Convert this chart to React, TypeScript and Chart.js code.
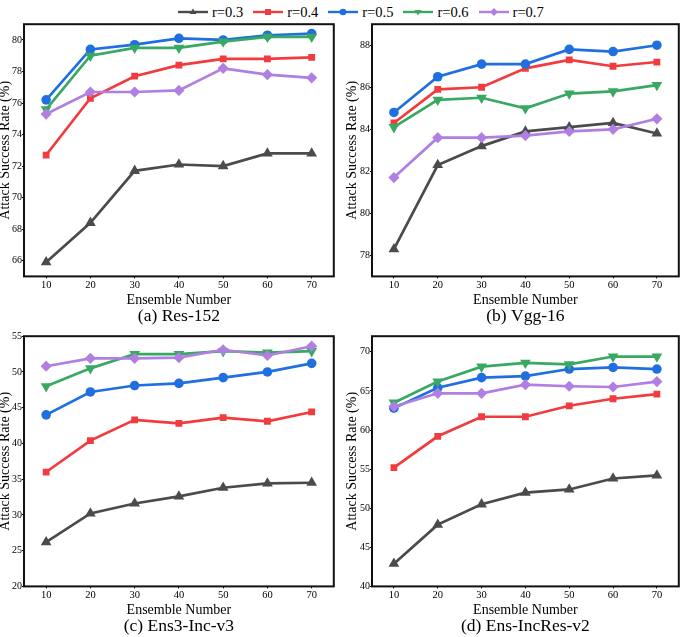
import React, { useEffect, useRef } from "react";
import { Chart, registerables } from "chart.js";

Chart.register(...registerables);

// ---------- data ----------
const ensembleNumbers = [10, 20, 30, 40, 50, 60, 70];
const xTickValues = [10, 20, 30, 40, 50, 60, 70];
const seriesLabels = ["r=0.3", "r=0.4", "r=0.5", "r=0.6", "r=0.7"];

// (a) Res-152
const resR03 = [65.9, 68.4, 71.7, 72.1, 72.0, 72.8, 72.8];
const resR04 = [72.7, 76.3, 77.7, 78.4, 78.8, 78.8, 78.9];
const resR05 = [76.2, 79.4, 79.7, 80.1, 80.0, 80.3, 80.4];
const resR06 = [75.6, 79.0, 79.5, 79.5, 79.9, 80.2, 80.2];
const resR07 = [75.3, 76.7, 76.7, 76.8, 78.2, 77.8, 77.6];
const resYTicks = [66, 68, 70, 72, 74, 76, 78, 80];

// (b) Vgg-16
const vggR03 = [78.3, 82.3, 83.2, 83.9, 84.1, 84.3, 83.8];
const vggR04 = [84.3, 85.9, 86.0, 86.9, 87.3, 87.0, 87.2];
const vggR05 = [84.8, 86.5, 87.1, 87.1, 87.8, 87.7, 88.0];
const vggR06 = [84.1, 85.4, 85.5, 85.0, 85.7, 85.8, 86.1];
const vggR07 = [81.7, 83.6, 83.6, 83.7, 83.9, 84.0, 84.5];
const vggYTicks = [78, 80, 82, 84, 86, 88];

// (c) Ens3-Inc-v3
const ens3R03 = [26.2, 30.2, 31.6, 32.6, 33.8, 34.4, 34.5];
const ens3R04 = [36.0, 40.4, 43.3, 42.8, 43.6, 43.1, 44.4];
const ens3R05 = [44.0, 47.2, 48.1, 48.4, 49.2, 50.0, 51.2];
const ens3R06 = [48.0, 50.5, 52.5, 52.5, 52.9, 52.7, 52.9];
const ens3R07 = [50.8, 51.9, 51.9, 52.0, 53.1, 52.3, 53.6];
const ens3YTicks = [20, 25, 30, 35, 40, 45, 50, 55];

// (d) Ens-IncRes-v2
const ensIncR03 = [42.9, 47.9, 50.5, 52.0, 52.4, 53.8, 54.2];
const ensIncR04 = [55.2, 59.2, 61.7, 61.7, 63.1, 64.0, 64.6];
const ensIncR05 = [62.8, 65.4, 66.7, 66.9, 67.8, 68.0, 67.8];
const ensIncR06 = [63.5, 66.2, 68.1, 68.6, 68.4, 69.4, 69.4];
const ensIncR07 = [63.0, 64.7, 64.7, 65.8, 65.6, 65.5, 66.2];
const ensIncYTicks = [40, 45, 50, 55, 60, 65, 70];

// ---------- styles ----------
const colors = ["#4b4b4b", "#f23b3f", "#1f6fe0", "#39a862", "#b07fe2"];
const pointStyles = ["triangle", "rect", "circle", "triangle", "rectRot"];
const pointRotations = [0, 0, 0, 180, 0];
const pointRadii = [6.2, 4.8, 4.8, 6.2, 5.6];
const FONT = "'Liberation Serif', 'Times New Roman', serif";

const framePlugin = {
  id: "frame",
  afterDraw(chart: any) {
    const { ctx, chartArea } = chart;
    ctx.save();
    ctx.strokeStyle = "#111";
    ctx.lineWidth = 2;
    ctx.strokeRect(chartArea.left, chartArea.top, chartArea.right - chartArea.left, chartArea.bottom - chartArea.top);
    ctx.restore();
  },
};

type PanelProps = {
  left: number;
  top: number;
  width: number;
  height: number;
  series: number[][];
  yMin: number;
  yMax: number;
  yTicks: number[];
  subtitle: string;
  yAxisWidth: number;
  yTitlePad: number;
  padTop: number;
  padRight: number;
};

function Panel(p: PanelProps) {
  const ref = useRef<HTMLCanvasElement>(null);
  useEffect(() => {
    const canvas = ref.current!;
    const chart = new Chart(canvas, {
      type: "line",
      data: {
        datasets: p.series.map((vals, i) => ({
          label: seriesLabels[i],
          data: ensembleNumbers.map((x, j) => ({ x, y: vals[j] })),
          borderColor: colors[i],
          backgroundColor: colors[i],
          borderWidth: 2.7,
          pointStyle: pointStyles[i] as any,
          rotation: pointRotations[i],
          pointRadius: pointRadii[i],
          pointBorderWidth: 0,
          tension: 0,
          order: 4 - i,
        })),
      },
      options: {
        responsive: false,
        animation: false,
        devicePixelRatio: 1,
        layout: { padding: { top: p.padTop, right: p.padRight, left: 0, bottom: 0 } },
        plugins: {
          legend: { display: false },
          tooltip: { enabled: false },
          title: {
            display: true,
            text: p.subtitle,
            position: "bottom",
            fullSize: false,
            color: "#000",
            font: { family: FONT, size: 17.5, weight: "normal" },
            padding: { top: -4, bottom: 0 },
          },
        },
        scales: {
          x: {
            type: "linear",
            min: 5,
            max: 75,
            afterBuildTicks: (s: any) => {
              s.ticks = xTickValues.map((v) => ({ value: v }));
            },
            afterFit: (s: any) => {
              s.height = 33.6;
            },
            ticks: { color: "#000", font: { family: FONT, size: 10.5 }, padding: 1, maxRotation: 0 },
            grid: { drawOnChartArea: false, drawTicks: true, tickLength: 2, color: "#000" },
            border: { display: false },
            title: {
              display: true,
              text: "Ensemble Number",
              color: "#000",
              font: { family: FONT, size: 14 },
              padding: { top: 0, bottom: 1 },
            },
          },
          y: {
            type: "linear",
            min: p.yMin,
            max: p.yMax,
            afterBuildTicks: (s: any) => {
              s.ticks = p.yTicks.map((v) => ({ value: v }));
            },
            afterFit: (s: any) => {
              s.width = p.yAxisWidth;
            },
            ticks: { color: "#000", font: { family: FONT, size: 10 }, padding: 0 },
            grid: { drawOnChartArea: false, drawTicks: true, tickLength: 2, color: "#000" },
            border: { display: false },
            title: {
              display: true,
              text: "Attack Success Rate (%)",
              color: "#000",
              font: { family: FONT, size: 14 },
              padding: { top: p.yTitlePad, bottom: 0 },
            },
          },
        },
      } as any,
      plugins: [framePlugin],
    });
    return () => chart.destroy();
  }, []);
  return (
    <canvas
      ref={ref}
      width={p.width}
      height={p.height}
      style={{ position: "absolute", left: p.left, top: p.top, width: p.width, height: p.height }}
    />
  );
}

function LegendMarker({ i }: { i: number }) {
  const c = colors[i];
  const cx = 15;
  const cy = 6;
  let marker: React.ReactNode = null;
  if (i === 0) marker = <polygon points={`${cx},${cy - 3.5} ${cx + 3.5},${cy + 2} ${cx - 3.5},${cy + 2}`} fill={c} />;
  if (i === 1) marker = <rect x={cx - 3} y={cy - 3} width={6} height={6} fill={c} />;
  if (i === 2) marker = <circle cx={cx} cy={cy} r={3.3} fill={c} />;
  if (i === 3) marker = <polygon points={`${cx},${cy + 3.5} ${cx + 3.5},${cy - 2} ${cx - 3.5},${cy - 2}`} fill={c} />;
  if (i === 4) marker = <polygon points={`${cx},${cy - 4} ${cx + 4},${cy} ${cx},${cy + 4} ${cx - 4},${cy}`} fill={c} />;
  return (
    <svg width={30} height={12} style={{ display: "block" }}>
      <line x1={0} y1={cy} x2={30} y2={cy} stroke={c} strokeWidth={2.4} />
      {marker}
    </svg>
  );
}

export default function App() {
  return (
    <div style={{ position: "absolute", left: 0, top: 0, width: 685, height: 637, background: "#fff", overflow: "hidden" }}>
      <div style={{ position: "absolute", left: 178, top: 3, display: "flex", alignItems: "center", gap: 10, fontFamily: FONT, fontSize: 14.5, color: "#000" }}>
        {seriesLabels.map((lab, i) => (
          <div key={lab} style={{ display: "flex", alignItems: "center", gap: 4 }}>
            <LegendMarker i={i} />
            <span style={{ lineHeight: "18px" }}>{lab}</span>
          </div>
        ))}
      </div>
      <Panel left={0} top={18} width={340} height={309} series={[resR03, resR04, resR05, resR06, resR07]} yMin={65} yMax={81} yTicks={resYTicks} subtitle="(a) Res-152" yAxisWidth={24} yTitlePad={-3.5} padTop={5} padRight={5} />
      <Panel left={340} top={18} width={345} height={309} series={[vggR03, vggR04, vggR05, vggR06, vggR07]} yMin={77} yMax={89} yTicks={vggYTicks} subtitle="(b) Vgg-16" yAxisWidth={32} yTitlePad={4} padTop={5} padRight={2} />
      <Panel left={0} top={330} width={340} height={307} series={[ens3R03, ens3R04, ens3R05, ens3R06, ens3R07]} yMin={20} yMax={55} yTicks={ens3YTicks} subtitle="(c) Ens3-Inc-v3" yAxisWidth={24} yTitlePad={-3.5} padTop={4} padRight={5} />
      <Panel left={340} top={330} width={345} height={307} series={[ensIncR03, ensIncR04, ensIncR05, ensIncR06, ensIncR07]} yMin={40} yMax={72} yTicks={ensIncYTicks} subtitle="(d) Ens-IncRes-v2" yAxisWidth={32} yTitlePad={4} padTop={4} padRight={2} />
    </div>
  );
}
